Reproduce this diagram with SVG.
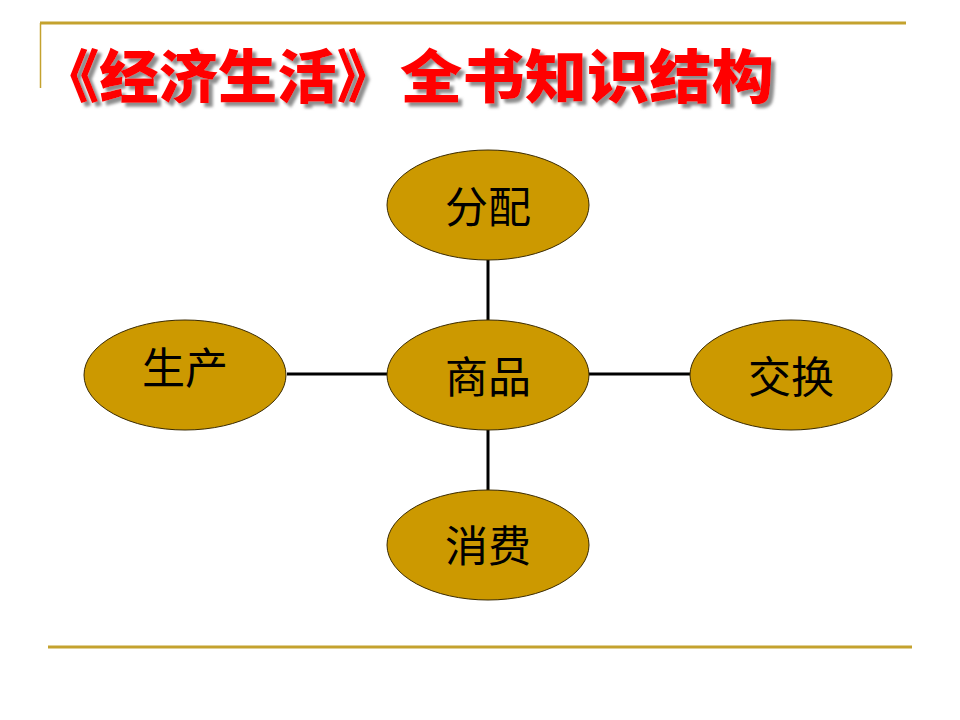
<svg xmlns="http://www.w3.org/2000/svg" width="960" height="720" viewBox="0 0 960 720">
<style>
.node ellipse{fill:#CC9900;stroke:#3a2a00;stroke-width:1}
.node text{font-family:"Noto Sans CJK SC","Noto Sans CJK JP",sans-serif;font-size:43px;fill:#000;text-anchor:middle}
.conn line{stroke:#000;stroke-width:3}
.rule{stroke:#C4A22E;stroke-width:3}
.title{font-family:"Noto Sans CJK SC",sans-serif;font-weight:900;font-size:58px;fill:#FF0000;filter:url(#sh)}
</style>
<defs>
<filter id="sh" x="-5%" y="-20%" width="115%" height="150%">
<feDropShadow dx="4" dy="4" stdDeviation="1.5" flood-color="#808080" flood-opacity="0.9"/>
</filter>
</defs>
<rect width="960" height="720" fill="#fff"/>
<line class="rule" x1="40" y1="23" x2="906" y2="23"/>
<line x1="40.5" y1="23" x2="40.5" y2="88" stroke="#C4A22E" stroke-width="1.5"/>
<line class="rule" x1="48" y1="647" x2="912" y2="647"/>
<g id="title">
<text class="title" x="40" y="98" textLength="356" lengthAdjust="spacingAndGlyphs">《经济生活》</text>
<text class="title" x="400" y="98" textLength="374" lengthAdjust="spacingAndGlyphs">全书知识结构</text>
</g>
<g id="connectors" class="conn">
<line x1="488" y1="260" x2="488" y2="320"/>
<line x1="488" y1="430" x2="488" y2="490"/>
<line x1="287" y1="374" x2="387" y2="374"/>
<line x1="589" y1="374" x2="690" y2="374"/>
</g>
<g id="fenpei" class="node"><ellipse cx="488" cy="205" rx="101" ry="55"/><text x="488" y="223">分配</text></g>
<g id="shangpin" class="node"><ellipse cx="488" cy="375" rx="101" ry="55"/><text x="488" y="393">商品</text></g>
<g id="shengchan" class="node"><ellipse cx="185" cy="375" rx="101" ry="55"/><text x="185" y="384">生产</text></g>
<g id="jiaohuan" class="node"><ellipse cx="791" cy="375" rx="101" ry="55"/><text x="791" y="393">交换</text></g>
<g id="xiaofei" class="node"><ellipse cx="488" cy="545" rx="101" ry="55"/><text x="488" y="562">消费</text></g>
</svg>
